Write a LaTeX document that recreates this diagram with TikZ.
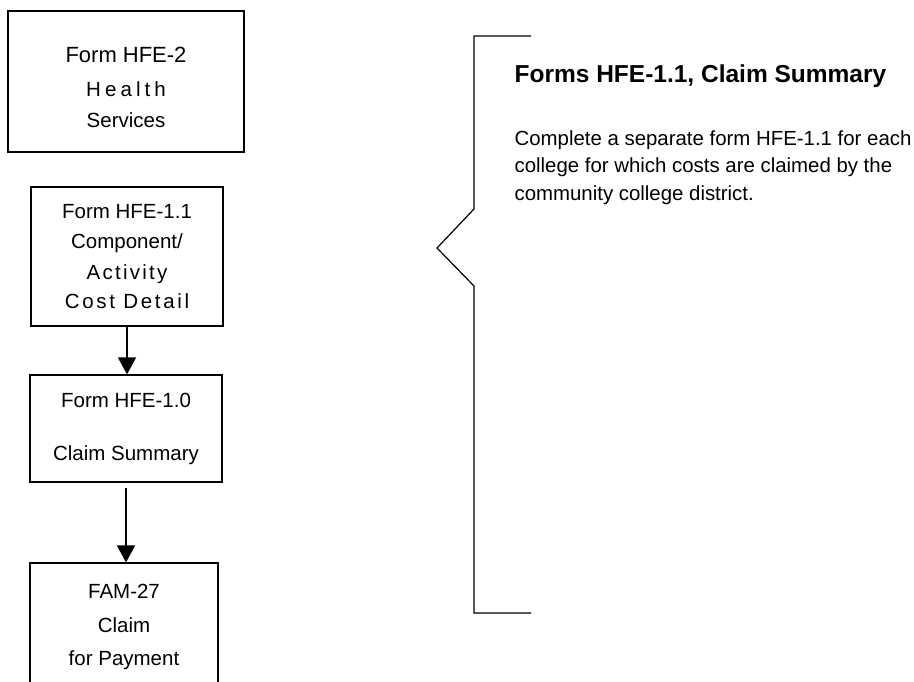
\documentclass[tikz,border=0pt]{standalone}
\usepackage{fontspec}
\setmainfont{Liberation Sans}
\usetikzlibrary{arrows.meta}
\newcommand{\spaced}[2]{{\addfontfeature{LetterSpace=#1}#2}}

\begin{document}
\begin{tikzpicture}[x=1pt,y=-1pt,line width=1.2pt,
		form/.style={draw,rectangle,inner sep=0pt,align=center,font=\fontsize{20.5}{28}\selectfont},
		flow/.style={line width=1.5pt,-{Triangle[length=17pt,width=18pt]}}]
		\useasboundingbox (0,0) rectangle (914,681);
		\node[form,minimum width=236pt,minimum height=141pt] (hfetwo) at (126,81.5)
			{\rule{0pt}{28pt}{\fontsize{22}{28}\selectfont Form HFE-2}\\[6pt]\spaced{20}{Health}\\[3pt]Services};
		\node[form,minimum width=192pt,minimum height=139pt] (hfeoneone) at (127,256.5)
			{Form HFE-1.1\\[2pt]Component/\\[3pt]\spaced{11}{Activity}\\[1pt]\spaced{13}{Cost Detail}};
		\node[form,minimum width=192pt,minimum height=107pt] (hfeonezero) at (126,428.5)
			{Form HFE-1.0\\[25pt]Claim Summary};
		\node[form,minimum width=188pt,minimum height=127pt] (famtwentyseven) at (124,626.5)
			{FAM-27\\[6pt]Claim\\[5pt]for Payment};
		\draw[flow] (hfeoneone.south) -- (hfeoneone.south |- hfeonezero.north);
		\draw[flow,shorten <=5pt] (hfeonezero.south) -- (hfeonezero.south |- famtwentyseven.north);
		% bracket
		\draw (531,36) -- (474,36) -- (474,209) -- (437,248) -- (474,286) -- (474,613) -- (531,613);
		\node[anchor=base west,inner sep=0pt,font=\fontsize{24.5}{30}\selectfont\bfseries] (heading) at (514,82)
			{Forms HFE-1.1, Claim Summary};
		\node[anchor=base west,inner sep=0pt,align=left,font=\fontsize{20.4}{27.5}\selectfont] (note) at (514,200)
			{Complete a separate form HFE-1.1 for each\\college for which costs are claimed by the\\community college district.};
\end{tikzpicture}
\end{document}
